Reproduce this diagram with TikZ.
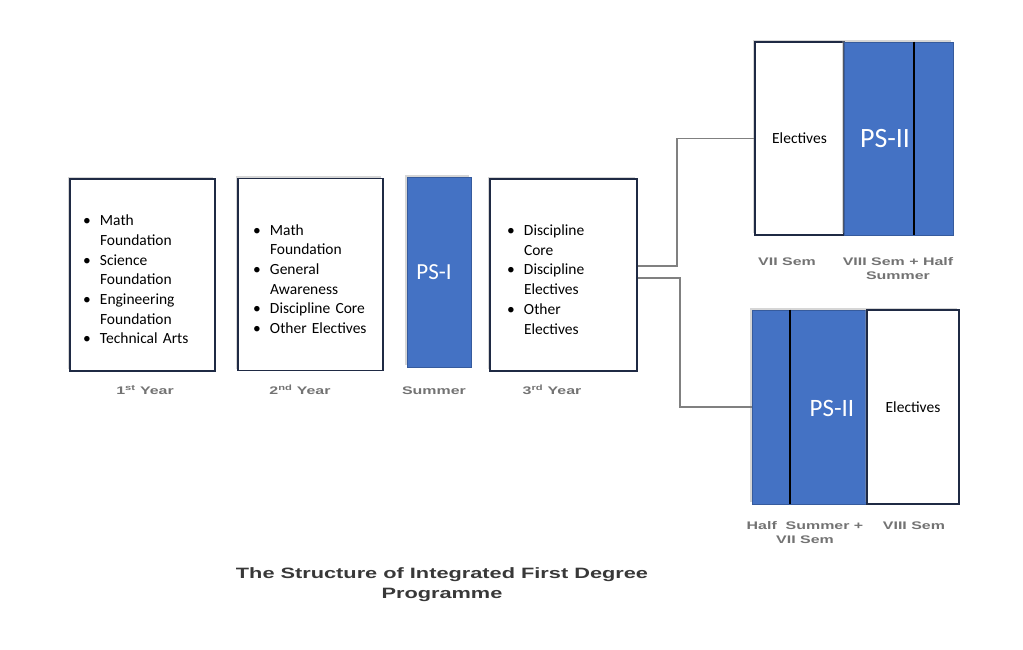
\documentclass[tikz,border=0pt]{standalone}
\usepackage{fontspec}
\setmainfont{Carlito}
\newfontfamily\labfont[FakeStretch=1.45]{Liberation Sans}
\usetikzlibrary{positioning,shadows}
\definecolor{psblue}{HTML}{4472C4}
\definecolor{boxline}{HTML}{1F2A44}
\definecolor{connline}{HTML}{808080}
\newcommand{\itm}[1]{\par\noindent\hangindent=18pt\hangafter=1\makebox[18pt][l]{\hspace{1pt}\textbullet}#1\par}

\begin{document}
\begin{tikzpicture}[x=1pt,y=-1pt,
  every node/.style={inner sep=0pt},
  shade/.style={drop shadow={shadow xshift=-2pt,shadow yshift=2pt,fill=black!40,opacity=0.4}},
  yearbox/.style={shade,draw=boxline,line width=1.6pt,fill=white,minimum height=192pt,
    align=left,font=\fontsize{15.5}{19.7}\selectfont},
  semwhite/.style={shade,draw=boxline,line width=1.6pt,fill=white,font=\fontsize{15.5}{19.5}\selectfont},
  psbox/.style={shade,draw=psblue!80!black,line width=0.8pt,fill=psblue},
  pstext/.style={text=white,font=\fontsize{#1}{#1}\selectfont},
  divider/.style={black,line width=1.4pt},
  conn/.style={connline,line width=1.8pt},
  lab/.style={text=black!55,align=center,font=\labfont\bfseries\fontsize{11}{14}\selectfont},
  ttl/.style={text=black!78,align=center,font=\labfont\bfseries\fontsize{15}{20}\selectfont}]
\useasboundingbox (0,0) rectangle (1023,650);

% the three years and the first summer
\node[yearbox,text width=121pt,inner xsep=12pt] (y1) at (142.5,275)
  {\itm{Math\newline Foundation}\itm{Science\newline Foundation}\itm{Engineering\newline Foundation}\itm{Technical~Arts}};
\node[yearbox,text width=117pt,inner xsep=14pt] (y2) at (310.5,274.5)
  {\itm{Math\newline Foundation}\itm{General\newline Awareness}\itm{Discipline~Core}\itm{Other~Electives}};
\node[psbox,minimum width=64pt,minimum height=190pt] (ps1) at (439,272) {};
\node[pstext=23] (t1) at (434,272) {PS-I};
\node[yearbox,text width=115pt,inner xsep=16pt] (y3) at (563.5,275)
  {\itm{Discipline\newline Core}\itm{Discipline\newline Electives}\itm{Other\newline Electives}};

% fourth year, option A
\node[semwhite,minimum width=89pt,minimum height=193pt] (e7) at (799.5,138.5) {Electives};
\node[psbox,minimum width=109pt,minimum height=193pt] (ps2a) at (898.5,138.5) {};
\draw[divider] ([xshift=15.5pt]ps2a.north) -- ([xshift=15.5pt]ps2a.south);
\node[pstext=28] (t2a) at (885,139) {PS-II};

% fourth year, option B
\node[psbox,minimum width=115pt,minimum height=194pt] (ps2b) at (809.5,407) {};
\draw[divider] ([xshift=-19.5pt]ps2b.north) -- ([xshift=-19.5pt]ps2b.south);
\node[pstext=25] (t2b) at (832,408) {PS-II};
\node[semwhite,minimum width=92pt,minimum height=194pt] (e8) at (913,407) {Electives};

% branches
\draw[conn] ([yshift=9pt]y3.east) -- ++(39,0) |- (e7.west);
\draw[conn] ([yshift=-3pt]y3.east) -- ++(42,0) |- (ps2b.west);

% captions
\node[lab,anchor=base] (l1) at (145,394) {1\textsuperscript{st} Year};
\node[lab,anchor=base] (l2) at (300,394) {2\textsuperscript{nd} Year};
\node[lab,anchor=base] (l3) at (434,394) {Summer};
\node[lab,anchor=base] (l4) at (552,394) {3\textsuperscript{rd} Year};
\node[lab,anchor=base] (l5) at (787,265) {VII Sem};
\node[lab,anchor=north] (l6) at (898,257) {VIII Sem + Half\\Summer};
\node[lab,anchor=north] (l7) at (805,521) {Half~ Summer +\\VII Sem};
\node[lab,anchor=base] (l8) at (914,529) {VIII Sem};

\node[ttl,anchor=north] (title) at (442,567) {The Structure of Integrated First Degree\\Programme};
\end{tikzpicture}
\end{document}
